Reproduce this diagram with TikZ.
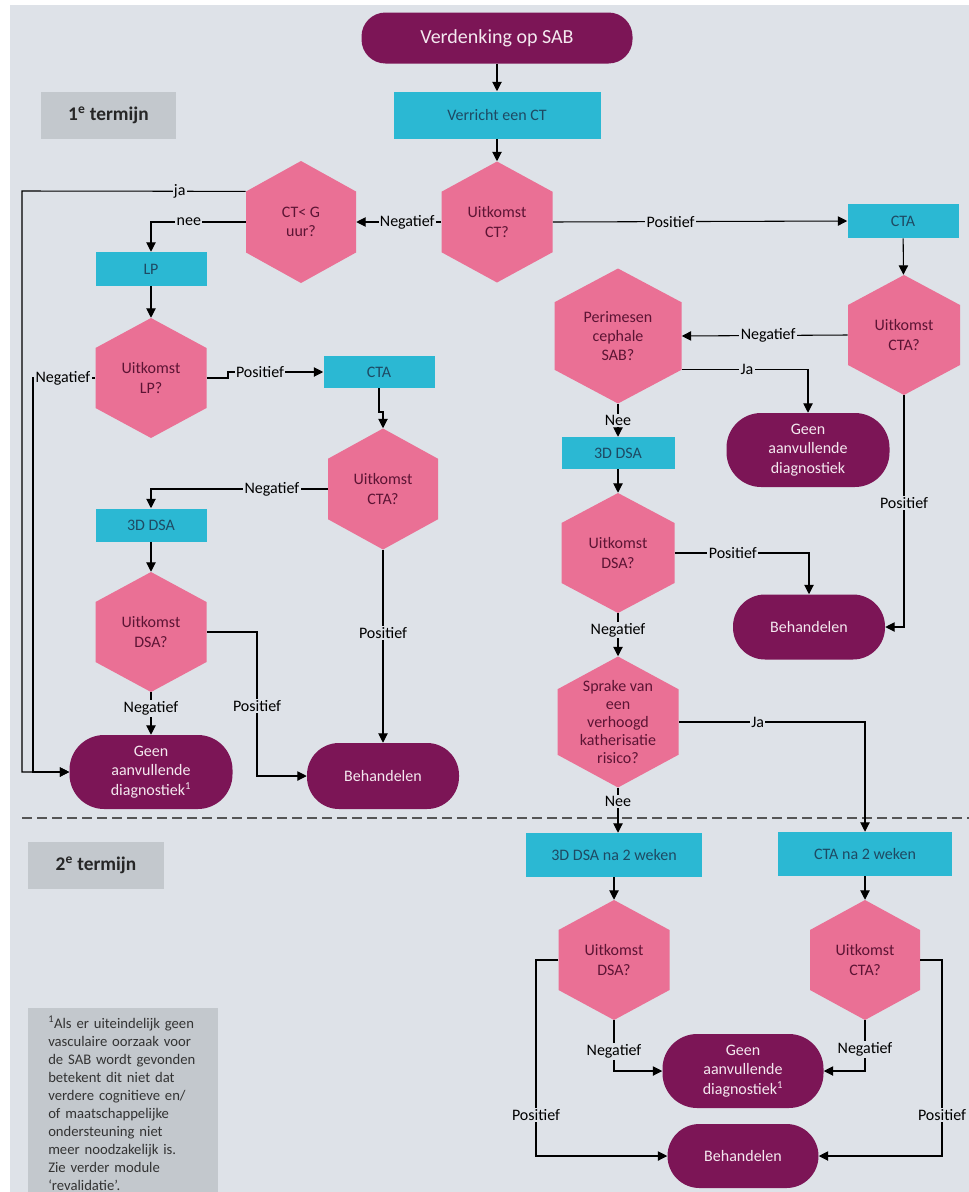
\documentclass[tikz,border=0pt]{standalone}
\usepackage{fontspec}
\setmainfont{Carlito}
\usetikzlibrary{arrows.meta,calc}
\definecolor{bgcol}{HTML}{DEE2E8}
\definecolor{purp}{HTML}{7C1556}
\definecolor{purptxt}{HTML}{F4E8EF}
\definecolor{cyanb}{HTML}{2BB8D3}
\definecolor{hexp}{HTML}{EA7095}
\definecolor{grayb}{HTML}{C3C8CD}
\definecolor{hextxt}{HTML}{5C1434}
\definecolor{boxtxt}{HTML}{1E4A63}
\definecolor{dashc}{HTML}{555555}
\tikzset{
  sz/.style 2 args={minimum width={#1*0.75pt}, minimum height={#2*0.75pt}},
  basefont/.style={font=\fontsize{12}{14.4}\selectfont},
  purpbox/.style={basefont, fill=purp, text=purptxt, rounded corners=#1, align=center, inner sep=0pt},
  cbox/.style={basefont, fill=cyanb, text=boxtxt, align=center, inner sep=0pt},
  hexbox/.style={basefont, fill=bgcol, text=hextxt, align=center, inner sep=0pt,
    path picture={
      \fill[hexp] (path picture bounding box.north)
        -- ($(path picture bounding box.north east)!0.25!(path picture bounding box.south east)$)
        -- ($(path picture bounding box.north east)!0.75!(path picture bounding box.south east)$)
        -- (path picture bounding box.south)
        -- ($(path picture bounding box.north west)!0.75!(path picture bounding box.south west)$)
        -- ($(path picture bounding box.north west)!0.25!(path picture bounding box.south west)$)
        -- cycle;
    }},
  termbox/.style={fill=grayb, text=black!85, inner sep=0pt, font=\fontsize{14.5}{17}\selectfont\bfseries},
  lab/.style={basefont, fill=bgcol, inner sep=1pt, text=black},
  conn/.style={draw=black, line width=0.8pt},
  arr/.style={conn, -{Triangle[length=7pt,width=7pt]}},
}
\begin{document}
\begin{tikzpicture}[x=0.75pt,y=-0.75pt]
\useasboundingbox (0,0) rectangle (969,1192);
\fill[white] (0,0) rectangle (969,1192);
\fill[bgcol] (10,5) rectangle (969,1192);
\draw[dashc, line width=1.5pt, dash pattern=on 7.5pt off 3.75pt] (22,818) -- (969,818);

% section labels
\node[termbox, sz={135}{47}] (term1) at (108.5,115.5) {1\textsuperscript{e} termijn};
\node[termbox, sz={136}{47}] (term2) at (96,865.5) {2\textsuperscript{e} termijn};

% nodes
\node[purpbox=18pt, sz={271}{51}, font=\fontsize{15}{18}\selectfont] (start) at (497,38) {Verdenking op SAB};
\node[cbox, sz={207}{47}] (ct) at (497,115) {Verricht een CT};
\node[hexbox, sz={111}{121}] (uct) at (497,222) {Uitkomst\\CT?};
\node[hexbox, sz={110}{122}] (ct6) at (301,222) {CT< G\\uur?};
\node[cbox, sz={111}{34}] (ctaR) at (903,221) {CTA};
\node[cbox, sz={111}{34}] (lp) at (151,269) {LP};
\node[hexbox, sz={111}{120}] (ulp) at (151,378) {Uitkomst\\LP?};
\node[cbox, sz={111}{32}] (ctaL) at (379,372) {CTA};
\node[hexbox, sz={110}{121}] (uctaL) at (383,489) {Uitkomst\\CTA?};
\node[cbox, sz={111}{33}] (dsaL) at (151,525) {3D DSA};
\node[hexbox, sz={111}{120}] (udsaL) at (151,632) {Uitkomst\\DSA?};
\node[purpbox=26pt, sz={163}{74}] (geenL) at (151,772) {Geen\\aanvullende\\diagnostiek\textsuperscript{1}};
\node[purpbox=24pt, sz={152}{66}] (behL) at (383,776) {Behandelen};
\node[hexbox, sz={112}{120}] (uctaR) at (904,335) {Uitkomst\\CTA?};
\node[hexbox, sz={127}{135}] (peri) at (618,336) {Perimesen\\cephale\\SAB?};
\node[purpbox=26pt, sz={163}{74}] (geenR) at (808,450) {Geen\\aanvullende\\diagnostiek};
\node[cbox, sz={113}{32}] (dsaR) at (618,453) {3D DSA};
\node[hexbox, sz={113}{120}] (udsaR) at (618,553) {Uitkomst\\DSA?};
\node[purpbox=24pt, sz={152}{65}] (behR) at (809,627) {Behandelen};
\node[hexbox, sz={121}{131}, font=\fontsize{12}{13.5}\selectfont] (sprake) at (618,722) {Sprake van\\een\\verhoogd\\katherisatie\\risico?};
\node[cbox, sz={176}{44}] (dsa2) at (614,855) {3D DSA na 2 weken};
\node[cbox, sz={174}{44}] (cta2) at (865,854) {CTA na 2 weken};
\node[hexbox, sz={111}{120}] (udsa2) at (614,960) {Uitkomst\\DSA?};
\node[hexbox, sz={110}{120}] (ucta2) at (865,960) {Uitkomst\\CTA?};
\node[purpbox=26pt, sz={161}{74}] (geen2) at (743,1071) {Geen\\aanvullende\\diagnostiek\textsuperscript{1}};
\node[purpbox=24pt, sz={151}{64}] (beh2) at (743,1156) {Behandelen};

\node[fill=grayb, anchor=north west, sz={188}{190}, inner xsep=15pt, inner ysep=4pt,
  text width={150*0.75pt}, align=left, text=black!80, font=\fontsize{11}{13.5}\selectfont] (foot) at (28,1008)
  {\textsuperscript{1}Als er uiteindelijk geen\\vasculaire oorzaak voor\\de SAB wordt gevonden\\betekent dit niet dat\\verdere cognitieve en/\\of maatschappelijke\\ondersteuning niet\\meer noodzakelijk is.\\Zie verder module\\‘revalidatie’.};

% helper coordinates
\coordinate (ct6ul) at ($(ct6.north west)!0.25!(ct6.south west)$);
\coordinate (perilr) at ($(peri.north east)!0.75!(peri.south east)$);

% connectors
\draw[arr] (start) -- (ct);
\draw[arr] (ct) -- (uct);
\draw[arr] (uct.west) -- node[lab, pos=0.4]{Negatief} (ct6.east);
\draw[arr] (uct.east) -- node[lab, pos=0.4]{Positief} (ctaR.west);
\draw[arr] (ct6ul) -- node[lab, pos=0.295]{ja} (22,191) |- (geenL.west);
\draw[arr] (ct6.west) -| node[lab, pos=0.3]{nee} (lp.north);
\draw[arr] (lp) -- (ulp);
\draw[arr] (ulp.west) -- node[lab, pos=0.52]{Negatief} (33,378) |- (geenL.west);
\draw[arr] (ulp.east) -- (228,378) |- node[lab, pos=0.668]{Positief} (ctaL.west);
\draw[arr] (ctaL.south) -- (379,412) -- (383,412) -- (uctaL.north);
\draw[arr] (uctaL.west) -| node[lab, pos=0.158]{Negatief} (dsaL.north);
\draw[arr] (dsaL) -- (udsaL);
\draw[arr] (udsaL.south) -- node[lab, pos=0.38]{Negatief} (geenL.north);
\draw[arr] (udsaL.east) -- (257,632) |- node[lab, pos=0.257]{Positief} (behL.west);
\draw[arr] (uctaL.south) -- node[lab, pos=0.43]{Positief} (behL.north);
\draw[arr] (ctaR) -- (uctaR);
\draw[arr] (uctaR.west) -- node[lab, pos=0.48]{Negatief} (peri.east);
\draw[arr] (perilr) -| node[lab, pos=0.258]{Ja} (geenR.north);
\draw[arr] (peri.south) -- node[lab]{Nee} (dsaR.north);
\draw[arr] (dsaR) -- (udsaR);
\draw[arr] (udsaR.east) -| node[lab, pos=0.216]{Positief} (behR.north);
\draw[arr] (uctaR.south) |- node[lab, pos=0.233]{Positief} (behR.east);
\draw[arr] (udsaR.south) -- node[lab, pos=0.39]{Negatief} (sprake.north);
\draw[arr] (sprake.east) -| node[lab, pos=0.212]{Ja} (cta2.north);
\draw[arr] (sprake.south) -- node[lab, pos=0.31]{Nee} (sprake.south |- dsa2.north);
\draw[arr] (dsa2) -- (udsa2);
\draw[arr] (cta2) -- (ucta2);
\draw[arr] (udsa2.south) |- node[lab, pos=0.31]{Negatief} (geen2.west);
\draw[arr] (ucta2.south) |- node[lab, pos=0.29]{Negatief} (geen2.east);
\draw[arr] (udsa2.west) -- (536,960) |- node[lab, pos=0.395]{Positief} (beh2.west);
\draw[arr] (ucta2.east) -- (942,960) |- node[lab, pos=0.395]{Positief} (beh2.east);
\end{tikzpicture}
\end{document}
